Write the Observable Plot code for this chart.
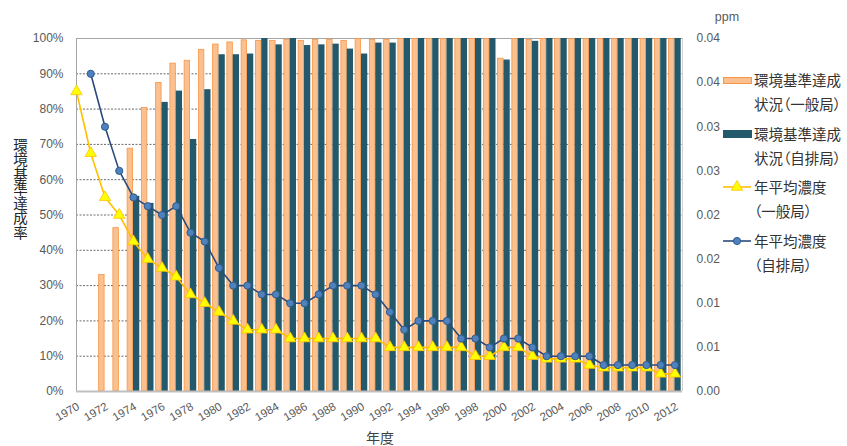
<!DOCTYPE html>
<html>
<head>
<meta charset="utf-8">
<script src="https://cdn.jsdelivr.net/npm/d3@7"></script>
<script src="https://cdn.jsdelivr.net/npm/@observablehq/plot@0.6"></script>
<style>
  body { margin: 0; background: #fff; }
  #wrap { position: relative; width: 847px; height: 446px; overflow: hidden; }
  .ov { position: absolute; color: #404040; font-family: "Noto Sans CJK JP", sans-serif; white-space: nowrap; }
  .leg { font-feature-settings: "palt" 1; }
</style>
</head>
<body>
<div id="wrap"></div>
<script>
// ---- data ----
const years = [1970,1971,1972,1973,1974,1975,1976,1977,1978,1979,
               1980,1981,1982,1983,1984,1985,1986,1987,1988,1989,
               1990,1991,1992,1993,1994,1995,1996,1997,1998,1999,
               2000,2001,2002,2003,2004,2005,2006,2007,2008,2009,
               2010,2011,2012];
// 環境基準達成状況（一般局） %
const generalRate = [null,null,33.1,46.4,68.9,80.4,87.5,93.0,93.8,96.9,
                     98.4,99.0,99.6,99.4,99.4,99.7,99.4,99.7,99.7,99.4,
                     100,99.7,99.7,100,100,100,100,100,100,100,
                     94.4,100,99.7,100,100,100,100,100,100,100,
                     100,100,100];
// 環境基準達成状況（自排局） %
const roadsideRate = [null,null,null,null,55.3,53.3,81.9,85.1,71.4,85.5,
                      95.4,95.4,95.6,100,98.2,100,98.0,98.2,98.4,97.0,
                      95.6,98.7,98.7,100,100,100,100,100,100,100,
                      93.9,100,99.2,100,100,100,100,100,100,100,
                      100,100,100];
// 年平均濃度（一般局） ppm
const generalPpm = [0.034,0.027,0.022,0.020,0.017,0.015,0.014,0.013,0.011,0.010,
                    0.009,0.008,0.007,0.007,0.007,0.006,0.006,0.006,0.006,0.006,
                    0.006,0.006,0.005,0.005,0.005,0.005,0.005,0.005,0.004,0.004,
                    0.005,0.005,0.004,0.0037,0.0037,0.0037,0.003,0.0027,0.0027,0.0027,
                    0.0027,0.002,0.002];
// 年平均濃度（自排局） ppm
const roadsidePpm = [null,0.036,0.030,0.025,0.022,0.021,0.020,0.021,0.018,0.017,
                     0.014,0.012,0.012,0.011,0.011,0.010,0.010,0.011,0.012,0.012,
                     0.012,0.011,0.009,0.007,0.008,0.008,0.008,0.006,0.006,0.005,
                     0.006,0.006,0.005,0.004,0.004,0.004,0.004,0.003,0.003,0.003,
                     0.003,0.003,0.003];

const leftTicks = [0,10,20,30,40,50,60,70,80,90,100];
const leftTickLabels = ["0%","10%","20%","30%","40%","50%","60%","70%","80%","90%","100%"];
const ppmTicks = [0,0.005,0.01,0.015,0.02,0.025,0.03,0.035,0.04];
const ppmTickLabels = ["0.00","0.01","0.01","0.02","0.02","0.03","0.03","0.04","0.04"];
const xTicks = [1970,1972,1974,1976,1978,1980,1982,1984,1986,1988,1990,
                1992,1994,1996,1998,2000,2002,2004,2006,2008,2010,2012];
const xTickLabels = xTicks.map(String);
const PPM_MAX = 0.04;

const seriesNames = ["環境基準達成\n状況（一般局）","環境基準達成\n状況（自排局）","年平均濃度\n（一般局）","年平均濃度\n（自排局）"];

// ---- styles ----
const C_GEN_BAR = "#FAC090", C_GEN_BAR_EDGE = "#F79646";
const C_ROAD_BAR = "#23596A";
const C_GEN_LINE = "#FFC000", C_GEN_DOT = "#FFFF00";
const C_ROAD_LINE = "#2A4A7C", C_ROAD_DOT = "#4F81BD", C_ROAD_DOT_EDGE = "#2F5C8F";
const BW = 0.44; // bar width in years

const rows = years.map((year, i) => ({
  year, gen: generalRate[i], road: roadsideRate[i],
  genPpm: generalPpm[i], roadPpm: roadsidePpm[i]
}));
const toPct = v => v / PPM_MAX * 100;

const chart = Plot.plot({
  width: 847, height: 446,
  marginLeft: 76, marginRight: 165, marginTop: 38, marginBottom: 55,
  style: { fontFamily: "'Liberation Sans', Arial, sans-serif", fontSize: "12px", background: "#fff", overflow: "visible" },
  x: { type: "linear", domain: [1970, 2012.53], axis: null },
  y: { domain: [0, 100], axis: null },
  marks: [
    // gridlines
    Plot.ruleY(leftTicks.filter(t => t > 0 && t < 100), { stroke: "#6b6b6b", strokeDasharray: "2,1.5", strokeWidth: 1 }),
    Plot.ruleY([100], { stroke: "#A6A6A6", strokeWidth: 1.2 }),
    Plot.ruleX([1970], { stroke: "#A6A6A6", strokeWidth: 1 }),
    Plot.ruleX([2012.53], { stroke: "#D0D0D0", strokeWidth: 1 }),
    // bars
    Plot.rect(rows.filter(d => d.gen != null), {
      x1: d => d.year - BW, x2: d => d.year, y1: d => 0, y2: "gen",
      fill: C_GEN_BAR, stroke: C_GEN_BAR_EDGE, strokeWidth: 0.8, inset: 0.4
    }),
    Plot.rect(rows.filter(d => d.road != null), {
      x1: d => d.year, x2: d => d.year + BW, y1: d => 0, y2: "road",
      fill: C_ROAD_BAR
    }),
    Plot.ruleY([0], { stroke: "#BFBFBF", strokeWidth: 2 }),
    // lines
    Plot.line(rows.filter(d => d.genPpm != null), { x: "year", y: d => toPct(d.genPpm), stroke: C_GEN_LINE, strokeWidth: 1.6 }),
    Plot.dot(rows.filter(d => d.genPpm != null), { x: "year", y: d => toPct(d.genPpm), symbol: "triangle", r: 4.2, fill: C_GEN_DOT, stroke: C_GEN_LINE, strokeWidth: 0.8 }),
    Plot.line(rows.filter(d => d.roadPpm != null), { x: "year", y: d => toPct(d.roadPpm), stroke: C_ROAD_LINE, strokeWidth: 1.6 }),
    Plot.dot(rows.filter(d => d.roadPpm != null), { x: "year", y: d => toPct(d.roadPpm), r: 3.6, fill: C_ROAD_DOT, stroke: C_ROAD_DOT_EDGE, strokeWidth: 1 }),
    // left axis labels
    Plot.text(leftTicks, { y: d => d, frameAnchor: "left", dx: -13, textAnchor: "end", text: (d, i) => leftTickLabels[i], fill: "#595959", fontSize: 12 }),
    // right axis labels
    Plot.text(ppmTicks, { y: d => toPct(d), frameAnchor: "right", dx: 14, textAnchor: "start", text: (d, i) => ppmTickLabels[i], fill: "#595959", fontSize: 12 }),
    // x axis labels
    Plot.text(xTicks, { x: d => d, frameAnchor: "bottom", dy: 14, dx: 2, rotate: -30, textAnchor: "end", lineAnchor: "middle", text: (d, i) => xTickLabels[i], fill: "#595959", fontSize: 11.5 })
  ]
});

const wrap = document.getElementById("wrap");
wrap.appendChild(chart);

function addDiv(html, css, cls) {
  const d = document.createElement("div");
  d.className = "ov" + (cls ? " " + cls : "");
  d.innerHTML = html;
  Object.assign(d.style, css);
  wrap.appendChild(d);
  return d;
}

// axis titles
addDiv("環境基準達成率", { left: "13px", top: "138px", writingMode: "vertical-rl", fontSize: "14.5px", lineHeight: "15px", width: "15px", color: "#262626" });
addDiv("年度", { left: "380px", top: "427px", transform: "translateX(-50%)", fontSize: "14px", lineHeight: "20px", color: "#404040" });
addDiv("ppm", { left: "727px", top: "9px", transform: "translateX(-50%)", fontSize: "12.5px", lineHeight: "16px", color: "#595959", fontFamily: "'Liberation Sans', Arial, sans-serif" });

// legend
const legendKinds = [
  { kind: "bar", fill: C_GEN_BAR, stroke: C_GEN_BAR_EDGE },
  { kind: "bar", fill: C_ROAD_BAR, stroke: C_ROAD_BAR },
  { kind: "tri", line: C_GEN_LINE, fill: C_GEN_DOT },
  { kind: "dot", line: C_ROAD_LINE, fill: C_ROAD_DOT, edge: C_ROAD_DOT_EDGE }
];
legendKinds.forEach((k, i) => {
  const cy = 80 + 53.5 * i;
  if (k.kind === "bar") {
    const s = document.createElement("div");
    Object.assign(s.style, { position: "absolute", left: "723px", top: (cy - 3.5) + "px", width: "27px", height: "5.5px", background: k.fill, border: "0.8px solid " + k.stroke });
    wrap.appendChild(s);
  } else {
    const ns = "http://www.w3.org/2000/svg";
    const svg = document.createElementNS(ns, "svg");
    svg.setAttribute("width", 30); svg.setAttribute("height", 14);
    Object.assign(svg.style, { position: "absolute", left: "722px", top: (cy - 7) + "px" });
    const ln = document.createElementNS(ns, "line");
    ln.setAttribute("x1", 1); ln.setAttribute("x2", 29); ln.setAttribute("y1", 7); ln.setAttribute("y2", 7);
    ln.setAttribute("stroke", k.line); ln.setAttribute("stroke-width", 1.6);
    svg.appendChild(ln);
    let m;
    if (k.kind === "tri") {
      m = document.createElementNS(ns, "path");
      m.setAttribute("d", d3.symbol(d3.symbolTriangle, 55)());
      m.setAttribute("transform", "translate(15,7)");
      m.setAttribute("fill", k.fill); m.setAttribute("stroke", k.line); m.setAttribute("stroke-width", 0.8);
    } else {
      m = document.createElementNS(ns, "circle");
      m.setAttribute("cx", 15); m.setAttribute("cy", 7); m.setAttribute("r", 3.6);
      m.setAttribute("fill", k.fill); m.setAttribute("stroke", k.edge); m.setAttribute("stroke-width", 1);
    }
    svg.appendChild(m);
    wrap.appendChild(svg);
  }
  addDiv(seriesNames[i].replace("\n", "<br>"), { left: "754px", top: (cy - 12) + "px", fontSize: "14.5px", lineHeight: "24px", color: "#333" }, "leg");
});
</script>
</body>
</html>
